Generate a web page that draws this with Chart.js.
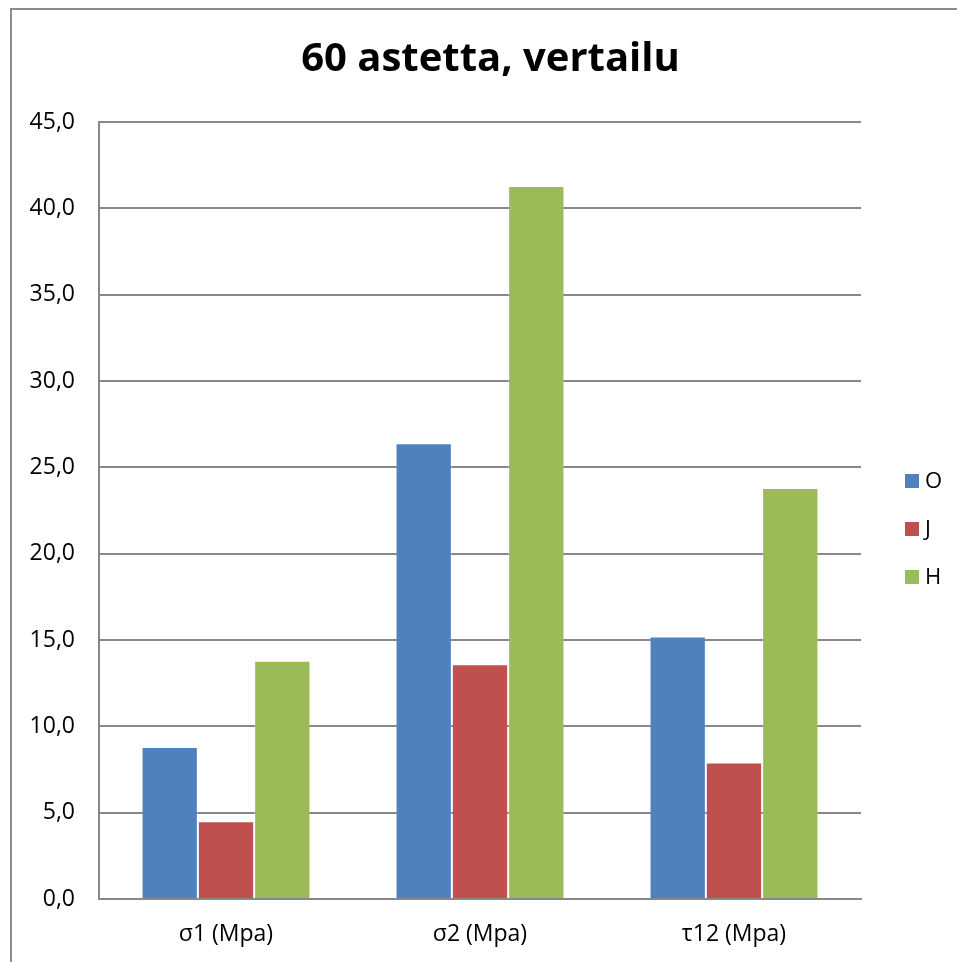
<!DOCTYPE html>
<html lang="fi">
<head>
    <meta charset="UTF-8">
    <title>60 astetta, vertailu</title>
    <script src="https://cdn.jsdelivr.net/npm/chart.js"></script>
    <style>
        html, body { margin: 0; padding: 0; background: #fff; overflow: hidden; }
        .graph-container { position: relative; width: 957px; height: 962px; }
    </style>
</head>
<body>
    <div class="graph-container">
        <canvas id="vertailu" width="957" height="962"></canvas>
    </div>
    <script>
        // Data
        const categories = ['σ1 (Mpa)', 'σ2 (Mpa)', 'τ12 (Mpa)'];
        const seriesNames = ['O', 'J', 'H'];
        const valuesO = [8.8, 26.4, 15.2];
        const valuesJ = [4.5, 13.6, 7.9];
        const valuesH = [13.8, 41.3, 23.8];
        const seriesColors = ['#4F81BD', '#C0504D', '#9BBB59'];

        const fontFamily = "'Open Sans', 'Liberation Sans', sans-serif";
        const gridColor = '#888888';

        // outer frame, as in the spreadsheet export
        const framePlugin = {
            id: 'frame',
            beforeDraw(chart) {
                const c = chart.ctx;
                c.save();
                c.fillStyle = '#ffffff';
                c.fillRect(0, 0, chart.width, chart.height);
                c.strokeStyle = '#8c8c8c';
                c.lineWidth = 2;
                c.strokeRect(11, 9, 1000, 1000);
                c.restore();
            }
        };

        // legend on the right, drawn next to the plot
        const sideLegend = {
            id: 'sideLegend',
            afterDraw(chart) {
                const c = chart.ctx;
                c.save();
                c.font = '22px ' + fontFamily;
                c.textBaseline = 'middle';
                chart.data.datasets.forEach((ds, i) => {
                    const y = 481 + i * 48;
                    c.fillStyle = ds.backgroundColor;
                    c.fillRect(905, y - 7, 14, 14);
                    c.fillStyle = '#000';
                    c.fillText(ds.label, 925, y + 1);
                });
                c.restore();
            }
        };

        const ctx = document.getElementById('vertailu').getContext('2d');
        const chart = new Chart(ctx, {
            type: 'bar',
            data: {
                labels: categories,
                datasets: [
                    { label: seriesNames[0], data: valuesO, backgroundColor: seriesColors[0] },
                    { label: seriesNames[1], data: valuesJ, backgroundColor: seriesColors[1] },
                    { label: seriesNames[2], data: valuesH, backgroundColor: seriesColors[2] }
                ].map(ds => Object.assign(ds, {
                    borderWidth: 1,
                    borderColor: 'rgba(255,255,255,0.18)',
                    categoryPercentage: 0.665,
                    barPercentage: 1.0
                }))
            },
            options: {
                responsive: false,
                animation: false,
                devicePixelRatio: 1,
                layout: { padding: { left: 24, right: 0, top: 0, bottom: 0 } },
                plugins: {
                    legend: { display: false },
                    tooltip: { enabled: false },
                    title: {
                        display: true,
                        text: '60 astetta, vertailu',
                        color: '#000',
                        font: { family: fontFamily, size: 40, weight: 'bold' },
                        padding: { top: 36, bottom: 38 }
                    }
                },
                scales: {
                    x: {
                        grid: { display: false, drawTicks: false },
                        border: { display: true, color: gridColor, width: 2 },
                        ticks: {
                            color: '#000',
                            font: { family: fontFamily, size: 23 },
                            padding: 22
                        },
                        afterFit(scale) { scale.height = 63; }
                    },
                    y: {
                        min: 0,
                        max: 45,
                        grid: { color: gridColor, lineWidth: 2, drawTicks: false },
                        border: { display: true, color: gridColor, width: 2 },
                        ticks: {
                            stepSize: 5,
                            color: '#000',
                            padding: 24,
                            font: { family: fontFamily, size: 23 },
                            callback: v => v.toFixed(1).replace('.', ',')
                        },
                        afterFit(scale) { scale.width = 75; }
                    },
                    // empty axis that keeps room for the legend on the right
                    yRight: {
                        position: 'right',
                        display: true,
                        grid: { display: false, drawTicks: false },
                        border: { display: false },
                        ticks: { display: false },
                        afterFit(scale) { scale.width = 96; }
                    }
                }
            },
            plugins: [framePlugin, sideLegend]
        });
    </script>
</body>
</html>
